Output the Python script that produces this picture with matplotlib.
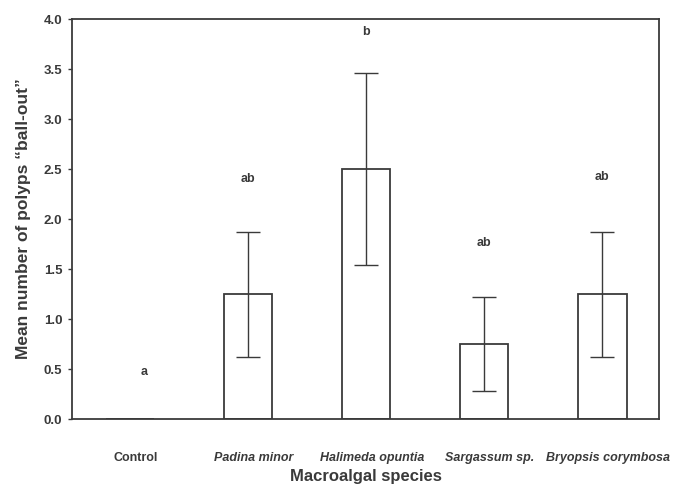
import numpy as np
import matplotlib.pyplot as plt

species = ['Control', 'Padina minor', 'Halimeda opuntia', 'Sargassum sp.', 'Bryopsis corymbosa']
italic = [False, True, True, True, True]
means = [0.0, 1.25, 2.5, 0.75, 1.25]
errors = [0.0, 0.625, 0.96, 0.47, 0.625]
letters = ['a', 'ab', 'b', 'ab', 'ab']
letter_y = [0.47, 2.4, 3.87, 1.76, 2.42]

plt.rcParams['font.family'] = ['Liberation Sans', 'DejaVu Sans']
ink = '#3a3a3a'

fig = plt.figure(figsize=(6.81, 4.88), dpi=100)
ax = fig.add_axes([72 / 681, 69 / 488, 587 / 681, 400 / 488])

x = np.arange(len(species))
ax.bar(x, means, width=0.41, color='white', edgecolor=ink, linewidth=1.3)
mask = np.array(errors) > 0
ax.errorbar(x[mask], np.array(means)[mask], yerr=np.array(errors)[mask],
            fmt='none', ecolor=ink, elinewidth=1.0, capsize=8.5, capthick=1.0)

for xi, lab, ly in zip(x, letters, letter_y):
    ax.text(xi + (0.12 if xi == 0 else 0), ly, lab, ha='center', va='center',
            fontsize=9, fontweight='bold', color=ink)

ax.set_xlim(-0.49, 4.48)
ax.set_ylim(0, 4.0)
ax.set_yticks(np.arange(0, 4.01, 0.5))
ax.set_yticklabels([f'{v:.1f}' for v in np.arange(0, 4.01, 0.5)],
                   fontsize=9.5, fontweight='bold', color=ink)
ax.set_xticks(x + 0.05)
ax.set_xticklabels(species, fontsize=9, fontweight='bold', color=ink)
for lbl, it in zip(ax.get_xticklabels(), italic):
    if it:
        lbl.set_fontstyle('italic')
ax.tick_params(axis='x', length=0, pad=24)
ax.tick_params(axis='y', length=3, width=1, color=ink, pad=4)
for s in ax.spines.values():
    s.set_color(ink)
    s.set_linewidth(1.3)

ax.set_ylabel('Mean number of polyps \u201cball-out\u201d', fontsize=12.5,
              fontweight='bold', color=ink, labelpad=9)
ax.set_xlabel('Macroalgal species', fontsize=12, fontweight='bold', color=ink,
              labelpad=3)

fig.savefig('out.png', dpi=100)
